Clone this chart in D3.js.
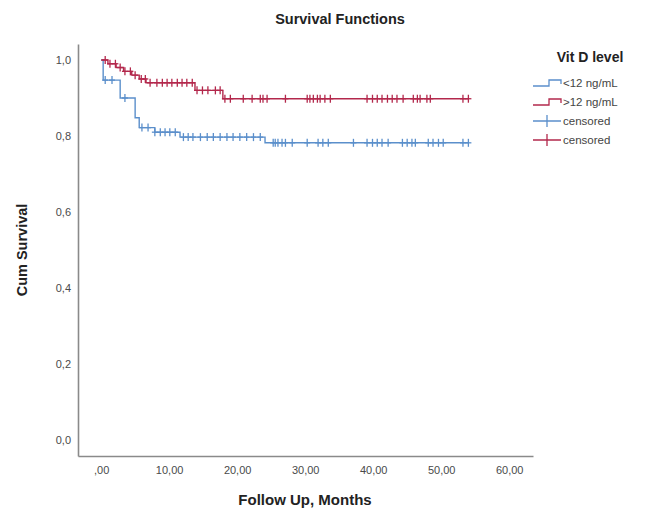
<!DOCTYPE html>
<html>
<head>
<meta charset="utf-8">
<script src="https://cdn.jsdelivr.net/npm/d3@7"></script>
<style>
  body { margin: 0; background: #fff; }
  text { font-family: Arial, "Liberation Sans", sans-serif; }
</style>
</head>
<body>
<div id="chart"></div>
<script>
// groups (legend order)
const groups = ["<12 ng/mL", ">12 ng/mL"];
const colors = ["#5b8fcb", "#b3284c"];

// event steps: [time, survival after event]
const lowSteps = [[0, 1.0], [0.3, 0.947], [2.8, 0.9], [5.0, 0.848], [5.6, 0.822], [7.9, 0.81], [11.6, 0.797], [24.1, 0.782]];
const highSteps = [[0, 1.0], [1.0, 0.99], [2.2, 0.98], [3.3, 0.97], [4.5, 0.96], [5.6, 0.95], [6.6, 0.94], [13.8, 0.92], [17.9, 0.898]];

// censored times
const lowCensored = [0.6, 1.6, 3.5, 6.0, 6.9, 7.9, 8.7, 9.4, 10.1, 10.9, 12.1, 12.8, 13.5, 14.6, 15.6, 16.5, 17.5, 18.5, 19.4, 20.4, 21.4, 22.4, 23.4,
  25.3, 25.6, 26.0, 26.6, 27.1, 28.1, 30.3, 31.9, 32.6, 33.4, 37.1, 39.1, 39.9, 40.6, 41.3, 42.2, 44.3, 45.0, 45.7, 46.2, 48.1, 48.8, 49.6, 50.3, 53.2, 54.0];
const highCensored = [0.6, 1.3, 2.1, 2.8, 3.5, 4.3, 5.0, 5.9, 6.5, 7.2, 8.2, 9.0, 9.7, 10.4, 11.2, 11.9, 12.6, 13.4, 14.1, 14.9, 15.7, 16.8, 17.5,
  18.2, 19.0, 20.9, 22.2, 23.4, 23.8, 24.4, 27.1, 30.3, 30.7, 31.2, 31.8, 32.2, 32.9, 33.7, 39.1, 39.9, 40.6, 41.3, 42.1, 42.8, 43.5, 44.4,
  45.9, 46.5, 46.9, 47.9, 48.4, 53.2, 54.0];

const xTicks = [0, 10, 20, 30, 40, 50, 60];
const yTicks = [0, 0.2, 0.4, 0.6, 0.8, 1.0];

const W = 652, H = 515;
const svg = d3.select("#chart").append("svg").attr("width", W).attr("height", H);

const x = d3.scaleLinear().domain([-3.4, 63.5]).range([78, 533]);
const y = d3.scaleLinear().domain([-0.042, 1.042]).range([456, 44]);

// survival value at time t
function survAt(steps, t) {
  let v = steps[0][1];
  steps.forEach(s => { if (s[0] <= t) v = s[1]; });
  return v;
}

// axes
const xAxis = d3.axisBottom(x).tickValues(xTicks).tickSize(0).tickPadding(10)
  .tickFormat(d => d === 0 ? ",00" : d3.format(".2f")(d).replace(".", ","));
const yAxis = d3.axisLeft(y).tickValues(yTicks).tickSize(0).tickPadding(7)
  .tickFormat(d => d3.format(".1f")(d).replace(".", ","));

const gx = svg.append("g").attr("transform", `translate(0,${y.range()[0]})`).call(xAxis);
const gy = svg.append("g").attr("transform", `translate(${x.range()[0]},0)`).call(yAxis);
[gx, gy].forEach(g => {
  g.select(".domain").attr("stroke", "#8a8a8a").attr("stroke-width", 1.6);
  g.selectAll("text").attr("fill", "#4a4a4a").style("font-size", "11px");
});

// curves
const line = d3.line().curve(d3.curveStepAfter).x(d => x(d[0])).y(d => y(d[1]));
const series = [
  {steps: lowSteps, cens: lowCensored, color: colors[0], end: 54.0},
  {steps: highSteps, cens: highCensored, color: colors[1], end: 54.0}
];

series.forEach(s => {
  const pts = s.steps.concat([[s.end, s.steps[s.steps.length - 1][1]]]);
  svg.append("path").datum(pts)
    .attr("fill", "none").attr("stroke", s.color).attr("stroke-width", 1.4)
    .attr("d", line);
  const g = svg.append("g").attr("stroke", s.color).attr("stroke-width", 1.3);
  s.cens.forEach(t => {
    const cx = x(t), cy = y(survAt(s.steps, t));
    g.append("line").attr("x1", cx).attr("x2", cx).attr("y1", cy - 4).attr("y2", cy + 4);
    g.append("line").attr("x1", cx - 3).attr("x2", cx + 3).attr("y1", cy).attr("y2", cy);
  });
});

// titles
svg.append("text").attr("x", 340).attr("y", 24).attr("text-anchor", "middle")
  .style("font-size", "14.5px").style("font-weight", "bold").attr("fill", "#222").text("Survival Functions");
svg.append("text").attr("transform", "translate(27,250) rotate(-90)").attr("text-anchor", "middle")
  .style("font-size", "14.5px").style("font-weight", "bold").attr("fill", "#222").text("Cum Survival");
svg.append("text").attr("x", 305).attr("y", 505).attr("text-anchor", "middle")
  .style("font-size", "15px").style("font-weight", "bold").attr("fill", "#222").text("Follow Up, Months");

// legend
const lg = svg.append("g");
lg.append("text").attr("x", 590).attr("y", 62).attr("text-anchor", "middle")
  .style("font-size", "14px").style("font-weight", "bold").attr("fill", "#222").text("Vit D level");
const legendItems = [
  {label: groups[0], color: colors[0], type: "step"},
  {label: groups[1], color: colors[1], type: "step"},
  {label: "censored", color: colors[0], type: "cross"},
  {label: "censored", color: colors[1], type: "cross"}
];
legendItems.forEach((d, i) => {
  const cy = 83 + i * 19;
  if (d.type === "step") {
    lg.append("path").attr("fill", "none").attr("stroke", d.color).attr("stroke-width", 1.3)
      .attr("d", `M533,${cy + 3}H549V${cy - 3}H561V${cy + 1}`);
  } else {
    lg.append("path").attr("fill", "none").attr("stroke", d.color).attr("stroke-width", 1.3)
      .attr("d", `M533,${cy}H561M547,${cy - 6}V${cy + 6}`);
  }
  lg.append("text").attr("x", 563).attr("y", cy + 4).style("font-size", "11.5px")
    .attr("fill", "#444").text(d.label);
});
</script>
</body>
</html>
